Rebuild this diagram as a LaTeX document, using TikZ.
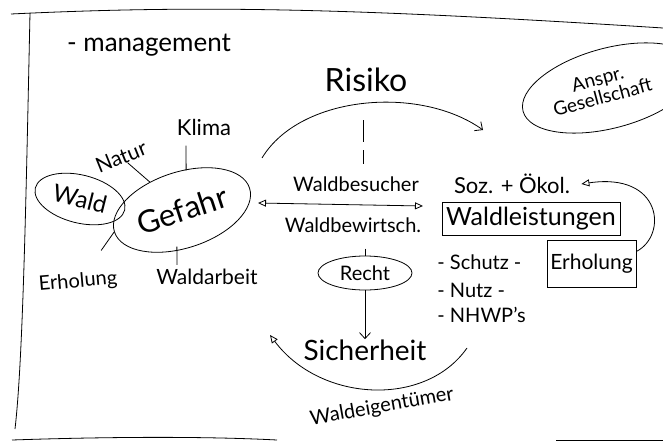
\documentclass[tikz,border=0pt]{standalone}
\usepackage{fontspec}
\setmainfont{Lato}
\usetikzlibrary{arrows.meta,shapes.geometric}
\newcommand{\fsz}[1]{\fontsize{#1}{#1}\selectfont}
\begin{document}
\begin{tikzpicture}[x=1pt,y=-1pt, line width=0.8pt,
  lbl/.style={inner sep=0pt, font=\fsz{20}},
  ell/.style={draw, ellipse, inner sep=0pt},
  vtip/.style={-{Straight Barb[length=6pt,width=11pt]}},
  ttip/.style={-{Triangle[open,length=8pt,width=7pt]}},
  tboth/.style={{Triangle[open,length=8pt,width=7pt]}-{Triangle[open,length=8pt,width=7pt]}},
]
\useasboundingbox (0,0) rectangle (663,441);
\clip (0,0) rectangle (663,441);
% frame
\draw (11,14) .. controls (200,5) and (350,8) .. (663,28);
\draw (30,13) .. controls (26,200) and (23,360) .. (15,429);
\draw (12,440) .. controls (100,437) and (200,436) .. (277,440);
\draw (556,440) -- (663,440);

% texts and shapes
\node[lbl, font=\fsz{26}] (mgmt) at (149,45) {- management};
\node[lbl, font=\fsz{32}] (risiko) at (366,80) {Risiko};
\node[ell, minimum width=92pt, minimum height=48pt, rotate=-14, font=\fsz{24}] (wald) at (80,199) {Wald};
\node[ell, minimum width=142pt, minimum height=76pt, rotate=18, font=\fsz{31}] (gefahr) at (182,210) {Gefahr};
\node[lbl, rotate=22, font=\fsz{21}] (natur) at (121,157) {Natur};
\node[lbl, font=\fsz{22}] (klima) at (204,127) {Klima};
\node[lbl, font=\fsz{20}, rotate=5] (erh) at (78,282) {Erholung};
\node[lbl, font=\fsz{21}] (arbeit) at (207,277) {Waldarbeit};
\node[lbl, font=\fsz{20}] (besucher) at (356,184) {Waldbesucher};
\node[lbl, font=\fsz{20}] (bewirt) at (353,225) {Waldbewirtsch.};
\node[lbl, font=\fsz{22}] (soz) at (512,184) {Soz. + Ökol.};
\node[draw, inner sep=0pt, minimum width=178pt, minimum height=33pt, font=\fsz{25}] (wl) at (531,218.5) {Waldleistungen};
\node[draw, inner sep=0pt, minimum width=89pt, minimum height=47pt, font=\fsz{21}] (erhbox) at (591.5,263.5) {Erholung};
\node[lbl, anchor=west] (schutz) at (437,262) {- Schutz -};
\node[lbl, anchor=west] (nutz) at (437,290) {- Nutz -};
\node[lbl, anchor=west] (nhwp) at (437,315) {- NHWP's};
\node[ell, minimum width=94pt, minimum height=34pt, font=\fsz{20}] (recht) at (365,273) {Recht};
\node[lbl, font=\fsz{28}] (sicher) at (365,350) {Sicherheit};
\node[lbl, font=\fsz{20}, rotate=10] (eigen) at (382,407) {Waldeigentümer};
\node[ell, minimum width=180pt, minimum height=80pt, rotate=15] (ges) at (610,88) {};
\node[lbl, rotate=15, align=center, font=\fsz{19}] (gestext) at (600,88) {Anspr.\\Gesellschaft};

% connectors
\draw (natur) -- (gefahr);
\draw ([xshift=-18pt,yshift=-10pt]klima.south) -- ([xshift=16pt,yshift=3pt]gefahr.north);
\draw ([xshift=24pt,yshift=22pt]erh.north) -- (gefahr.west);
\draw ([xshift=-30pt,yshift=4pt]arbeit.north) -- ([xshift=-17pt]gefahr.south);

\coordinate (rs) at (262,158);
\coordinate (re) at (483,130);
\draw[vtip] (rs) .. controls (300,95) and (420,85) .. (re);
\draw[dash pattern=on 22pt off 8pt] ([xshift=-3pt,yshift=-28pt]risiko.south) -- ([xshift=7pt,yshift=12pt]besucher.north);

\coordinate (dl) at (258,203);
\coordinate (dr) at (423,206);
\draw[tboth] (dl) -- (dr);

\draw ([yshift=7pt]recht.north) -- (recht.north);
\draw[vtip] (recht.south) -- (sicher.north);

\coordinate (bs) at (467,348);
\coordinate (be) at (270,335);
\draw[ttip] (bs) .. controls (425,408) and (320,402) .. (be);

\draw[ttip] ([yshift=12pt]erhbox.east) .. controls (668,235) and (662,172) .. ([xshift=11pt]soz.east);
\end{tikzpicture}
\end{document}
